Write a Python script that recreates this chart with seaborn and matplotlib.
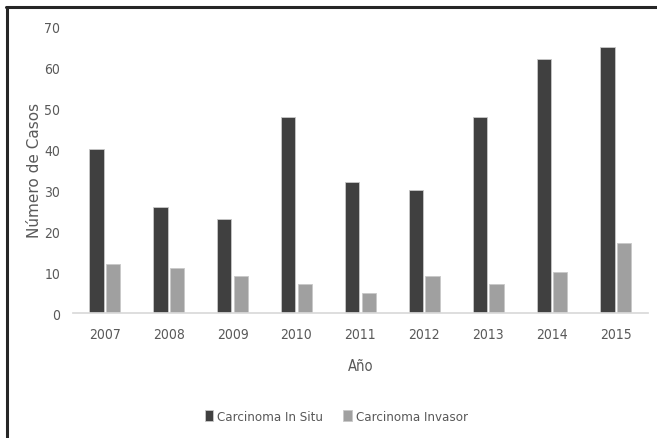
import pandas as pd
import matplotlib.pyplot as plt
import seaborn as sns
from matplotlib.lines import Line2D

years = ['2007', '2008', '2009', '2010', '2011', '2012', '2013', '2014', '2015']
in_situ = [40, 26, 23, 48, 32, 30, 48, 62, 65]
invasor = [12, 11, 9, 7, 5, 9, 7, 10, 17]
series = ['Carcinoma In Situ', 'Carcinoma Invasor']
colors = ['#404040', '#a0a0a0']

df = pd.DataFrame({
    'Año': years * 2,
    'Casos': in_situ + invasor,
    'Serie': [series[0]] * len(years) + [series[1]] * len(years),
})

sns.set_theme(style="white")
plt.rcParams['font.family'] = ['DejaVu Sans']
plt.rcParams['font.stretch'] = 'condensed'
txt = '#595959'

fig = plt.figure(figsize=(6.57, 4.39), dpi=100)
ax = fig.add_axes([0.111, 0.2847, 0.875, 0.6527])
sns.barplot(data=df, x='Año', y='Casos', hue='Serie', palette=colors,
            width=0.52, gap=0.14, edgecolor='#c8c8c8', linewidth=0.6, ax=ax)

ax.set_ylim(0, 70)
ax.set_yticks(range(0, 71, 10))
ax.set_xlim(-0.5, 8.5)
for s in ['top', 'right', 'left']:
    ax.spines[s].set_visible(False)
ax.spines['bottom'].set_color('#d9d9d9')
ax.tick_params(axis='both', length=0, colors=txt, labelsize=10)
ax.tick_params(axis='x', pad=10)
ax.tick_params(axis='y', pad=9)
ax.set_xlabel('Año', color=txt, fontsize=10.5, labelpad=12)
ax.set_ylabel('Número de Casos', color=txt, fontsize=11, fontstretch='normal', labelpad=2)

ax.legend(loc='center', bbox_to_anchor=(0.458, -0.36), ncol=2, frameon=False,
          fontsize=9.5, handlelength=0.65, handleheight=0.9, handletextpad=0.3,
          columnspacing=1.5, labelcolor=txt)

fig.add_artist(Line2D([7 / 657, 7 / 657], [0, 1 - 8 / 439], color='#262626', lw=2.2))
fig.add_artist(Line2D([6 / 657, 1], [1 - 8 / 439, 1 - 8 / 439], color='#262626', lw=2.2))

plt.savefig('out.png', dpi=100)
plt.close()
